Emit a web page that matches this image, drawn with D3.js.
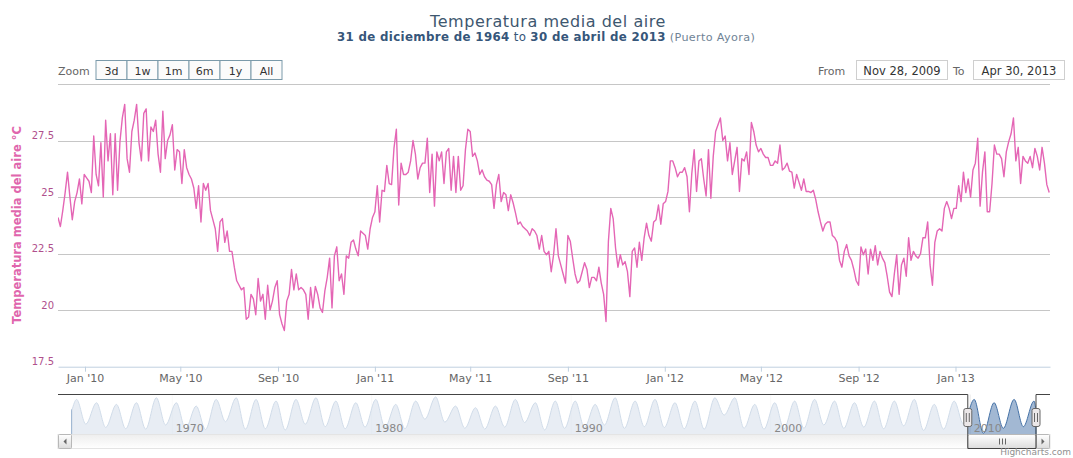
<!DOCTYPE html>
<html>
<head>
<meta charset="utf-8">
<script src="https://cdn.jsdelivr.net/npm/d3@7"></script>
<style>
  body { margin: 0; background: #fff; }
  svg { display: block; }
</style>
</head>
<body>
<script>
// mean air temperature, Puerto Ayora - one reading every 3 days from 28 Nov 2009
var startDate = new Date(Date.UTC(2009, 10, 28));
var endDate = new Date(Date.UTC(2013, 3, 30));
var stepDays = 3;
var temps = [
  24.1, 23.7, 24.4, 25.2, 26.1, 25.0, 24.0, 24.8, 25.2, 25.8,
  24.7, 26.0, 25.85, 25.7, 25.2, 27.7, 26.0, 25.5, 27.4, 25.0,
  28.4, 26.6, 27.8, 25.1, 27.8, 25.3, 27.45, 28.5, 29.1, 26.7,
  26.1, 27.9, 28.4, 29.1, 27.4, 26.6, 28.7, 28.9, 26.6, 28.1,
  27.9, 28.4, 26.9, 26.1, 28.8, 26.7, 27.5, 27.75, 28.2, 26.2,
  27.1, 27.0, 25.6, 27.1, 26.3, 26.0, 25.8, 25.4, 24.5, 25.5,
  23.9, 25.6, 25.3, 25.6, 24.4, 24.0, 23.6, 22.6, 23.9, 24.05,
  23.0, 23.5, 22.6, 22.6, 21.9, 21.3, 21.1, 20.9, 21.0, 19.6,
  19.7, 20.7, 20.5, 19.8, 21.4, 20.4, 20.7, 19.6, 21.1, 20.0,
  20.4, 21.0, 21.3, 19.8, 19.4, 19.1, 20.4, 20.7, 21.8, 20.9,
  21.6, 20.9, 21.0, 20.9, 20.7, 19.6,
  21.0, 20.1, 21.05, 20.7, 20.1, 19.9, 20.85, 21.45, 22.3, 20.1,
  22.4, 22.8, 21.3, 21.6, 20.7, 22.4, 22.3, 23.0, 23.1, 22.7,
  22.4, 23.5, 23.4, 23.3, 22.7, 23.6, 24.1, 24.35, 25.5, 23.9,
  25.3, 25.25, 26.4, 25.6, 25.55, 27.15, 28.0, 24.65, 26.5, 26.0,
  26.0, 26.1, 26.6, 27.5, 26.9, 25.8, 26.3, 26.5, 26.5, 27.6,
  25.2, 26.9, 24.6, 27.0, 26.6, 27.0, 25.6, 27.0, 27.15, 25.3,
  26.8, 25.2, 26.8, 25.3, 25.5, 27.1, 28.0, 27.9, 26.8, 26.95,
  26.6, 26.0, 26.2, 25.9, 25.75, 25.7, 25.55, 24.5, 25.55, 26.0,
  24.8, 25.2, 25.1, 24.4, 25.1, 24.75, 24.3, 23.8, 23.9, 23.7,
  23.6, 23.5, 23.3, 23.6, 23.5, 23.3, 22.7, 23.3, 22.6, 22.45,
  22.6, 21.7, 22.45, 23.6, 22.4,
  22.0, 21.6, 21.2, 23.3, 23.05, 22.3, 21.6, 21.2, 21.3, 21.7,
  22.1, 21.8, 21.0, 21.45, 21.45, 21.3, 21.9, 21.2, 20.7, 19.5,
  23.05, 24.5, 24.05, 22.75, 21.9, 22.45, 22.0, 22.15, 21.7, 20.6,
  22.6, 22.75, 21.9, 23.0, 22.2, 23.2, 23.85, 23.3, 23.05, 23.9,
  24.0, 24.65, 23.8, 24.7, 24.8, 25.25, 26.6, 26.6, 26.3, 25.9,
  26.1, 26.1, 26.3, 25.9, 24.35, 26.05, 27.1, 25.25, 26.6, 26.7,
  25.8, 25.05, 27.1, 24.95, 26.8, 27.9, 28.2, 28.5, 27.5, 27.7,
  26.6, 27.4, 26.0, 26.6, 27.2, 25.25, 26.7, 26.6, 27.0, 26.0,
  28.3, 27.9, 27.3, 27.0, 27.15, 26.9, 26.75, 26.75, 26.4, 26.4,
  26.6, 26.5, 27.3, 26.2, 26.3, 26.5, 26.15, 26.1, 25.4, 26.0,
  25.65, 25.3, 25.8, 25.25, 25.25,
  25.2, 25.3, 24.9, 24.35, 23.9, 23.5, 23.8, 23.9, 23.9, 23.3,
  23.2, 23.0, 22.2, 21.9, 22.6, 22.9, 22.4, 22.2, 21.8, 21.3,
  21.1, 22.8, 22.45, 22.7, 21.6, 22.7, 22.2, 22.85, 22.0, 22.6,
  22.3, 22.1, 21.5, 20.8, 20.6, 21.6, 22.45, 20.7, 22.0, 22.3,
  21.5, 23.2, 22.2, 22.6, 22.4, 22.3, 22.5, 23.2, 23.2, 23.9,
  22.0, 21.1, 23.0, 23.5, 23.6, 23.5, 24.5, 24.8, 24.5, 24.05,
  24.5, 24.5, 25.5, 24.8, 26.1, 25.2, 25.8, 25.0, 26.2, 26.5,
  27.6, 24.6, 26.1, 27.0, 24.35, 24.35, 25.6, 27.3, 26.9, 26.9,
  26.7, 25.9, 27.0, 27.45, 27.8, 28.5, 26.6, 27.2, 25.6, 26.8,
  26.6, 26.5, 26.8, 26.3, 27.15, 26.8, 26.2, 27.2, 26.5, 25.55, 25.2
];

var yGrid = [17.5, 20, 22.5, 25, 27.5, 30];
var yLabels = [17.5, 20, 22.5, 25, 27.5];
var zoomButtons = ["3d", "1w", "1m", "6m", "1y", "All"];

// navigator: whole record 31 Dec 1964 - 30 Apr 2013, yearly warm peak and cool trough
var navStart = new Date(Date.UTC(1964, 11, 31));
var navYears = d3.range(1965, 2014);
var navPeak = [
  28.0, 27.2, 26.8, 27.2, 28.4, 27.2, 26.4, 28.0, 28.4, 28.0,
  27.6, 28.0, 28.4, 27.6, 27.2, 28.0, 26.8, 27.6, 28.6, 26.4,
  26.0, 26.4, 28.0, 27.2, 27.6, 27.6, 26.8, 28.4, 27.6, 28.0,
  27.2, 27.6, 28.4, 28.4, 26.8, 27.2, 27.6, 28.0, 27.6, 27.2,
  27.6, 27.6, 28.0, 26.8, 27.6, 28.0, 27.2, 28.0, 27.6
];
var navTrough = [
  22.0, 21.2, 20.9, 20.8, 21.8, 20.9, 20.7, 22.6, 20.8, 20.9,
  20.6, 22.0, 21.4, 20.9, 21.3, 21.2, 20.9, 23.2, 22.5, 21.0,
  20.8, 21.3, 22.4, 20.6, 21.0, 21.2, 21.8, 21.0, 21.4, 21.2,
  20.9, 20.8, 24.2, 21.0, 20.8, 20.9, 21.0, 21.8, 21.0, 21.3,
  20.9, 21.6, 20.5, 20.8, 22.0, 19.8, 21.0, 21.4
];
var navEnds = [25.4, 25.2];
var navDecades = [1970, 1980, 1990, 2000, 2010];

var W = 1073, H = 458;
var font = "'DejaVu Sans', 'Lucida Grande', sans-serif";

var svg = d3.select("body").append("svg")
    .attr("width", W)
    .attr("height", H)
    .style("font-family", font);

// ---- titles
svg.append("text")
    .attr("x", 548).attr("y", 27)
    .attr("text-anchor", "middle")
    .attr("font-size", 16)
    .attr("letter-spacing", 0.55)
    .attr("fill", "#3E576F")
    .text("Temperatura media del aire");

var sub = svg.append("text")
    .attr("x", 546).attr("y", 40.5)
    .attr("text-anchor", "middle")
    .attr("font-size", 11.8)
    .attr("letter-spacing", 0.35)
    .attr("fill", "#36567a");
sub.append("tspan").attr("font-weight", "bold").text("31 de diciembre de 1964");
sub.append("tspan").text(" to ");
sub.append("tspan").attr("font-weight", "bold").text("30 de abril de 2013");
sub.append("tspan").attr("fill", "#6f8396").attr("font-size", 11.2).text(" (Puerto Ayora)");

// ---- range selector
svg.append("text")
    .attr("x", 58).attr("y", 74.5)
    .attr("font-size", 11)
    .attr("fill", "#666")
    .text("Zoom");

var btnW = 31;
var btns = svg.selectAll("g.btn")
    .data(zoomButtons)
    .enter().append("g")
    .attr("class", "btn")
    .attr("transform", function (d, i) { return "translate(" + (96 + i * btnW) + ",60.5)"; });
btns.append("rect")
    .attr("width", btnW).attr("height", 19)
    .attr("fill", "#fbfbfb")
    .attr("stroke", "#7b9aaa");
btns.append("text")
    .attr("x", btnW / 2).attr("y", 14)
    .attr("text-anchor", "middle")
    .attr("font-size", 11)
    .attr("fill", "#333")
    .text(function (d) { return d; });

var inputs = [
  {label: "From", lx: 818, bx: 856, text: d3.utcFormat("%b %-d, %Y")(startDate)},
  {label: "To", lx: 953, bx: 973, text: d3.utcFormat("%b %-d, %Y")(endDate)}
];
inputs.forEach(function (d) {
  svg.append("text")
      .attr("x", d.lx).attr("y", 74.5)
      .attr("font-size", 11)
      .attr("fill", "#666")
      .text(d.label);
  svg.append("rect")
      .attr("x", d.bx + 0.5).attr("y", 60.5)
      .attr("width", 91).attr("height", 19)
      .attr("fill", "#fff")
      .attr("stroke", "#cfcfcf");
  svg.append("text")
      .attr("x", d.bx + 46).attr("y", 75)
      .attr("text-anchor", "middle")
      .attr("font-size", 11.5)
      .attr("fill", "#333")
      .text(d.text);
});

// ---- main chart
var plot = {left: 58, right: 1050, top: 84, bottom: 366.7};

var x = d3.scaleUtc()
    .domain([startDate, endDate])
    .range([plot.left, plot.right]);

var y = d3.scaleLinear()
    .domain([17.5, 30])
    .range([plot.bottom, plot.top]);

// horizontal grid
svg.append("g")
    .selectAll("line")
    .data(yGrid.filter(function (v) { return v > 17.5; }))
    .enter().append("line")
    .attr("x1", plot.left).attr("x2", plot.right)
    .attr("y1", function (d) { return Math.round(y(d)) + 0.5; })
    .attr("y2", function (d) { return Math.round(y(d)) + 0.5; })
    .attr("stroke", "#c6c6c6");

// y labels, sitting just above their grid line
svg.append("g")
    .selectAll("text")
    .data(yLabels)
    .enter().append("text")
    .attr("x", 54)
    .attr("y", function (d) { return y(d) - 1.5; })
    .attr("text-anchor", "end")
    .attr("font-size", 10)
    .attr("fill", "#b0508c")
    .text(function (d) { return d; });

svg.append("text")
    .attr("transform", "translate(21,225) rotate(-90)")
    .attr("text-anchor", "middle")
    .attr("font-size", 11.5)
    .attr("font-weight", "bold")
    .attr("fill", "#e066ad")
    .text("Temperatura media del aire \u00B0C");

// x axis
var xAxis = svg.append("g")
    .attr("transform", "translate(0," + plot.bottom + ")")
    .call(d3.axisBottom(x)
      .ticks(d3.utcMonth.every(4))
      .tickFormat(d3.utcFormat("%b '%y"))
      .tickSize(5)
      .tickSizeOuter(0)
      .tickPadding(3));
xAxis.select(".domain").attr("stroke", "#C0D0E0");
xAxis.selectAll(".tick line").attr("stroke", "#C0D0E0");
xAxis.selectAll(".tick text")
    .attr("font-family", font)
    .attr("font-size", 11)
    .attr("fill", "#666");

var series = temps.map(function (v, i) {
  return {date: d3.utcDay.offset(startDate, i * stepDays), v: v};
});

svg.append("clipPath").attr("id", "plotclip")
  .append("rect")
    .attr("x", plot.left).attr("y", plot.top)
    .attr("width", plot.right - plot.left).attr("height", plot.bottom - plot.top);

svg.append("path")
    .datum(series)
    .attr("clip-path", "url(#plotclip)")
    .attr("fill", "none")
    .attr("stroke", "#e466b5")
    .attr("stroke-width", 1.4)
    .attr("stroke-linejoin", "round")
    .attr("d", d3.line()
      .x(function (d) { return x(d.date); })
      .y(function (d) { return y(d.v); }));

// ---- navigator
var nav = {left: 72, right: 1036, top: 394.5, height: 40};
var navBottom = nav.top + nav.height;

var nx = d3.scaleUtc()
    .domain([navStart, endDate])
    .range([nav.left, nav.right]);
var ny = d3.scaleLinear()
    .domain([19.5, 29.2])
    .range([navBottom, nav.top]);

var navData = [{date: navStart, v: navEnds[0]}];
navYears.forEach(function (yr, i) {
  navData.push({date: new Date(Date.UTC(yr, 2, 25)), v: navPeak[i]});
  if (i < navTrough.length) navData.push({date: new Date(Date.UTC(yr, 8, 10)), v: navTrough[i]});
});
navData.push({date: endDate, v: navEnds[1]});

// decade grid lines
var navAxis = svg.append("g")
    .attr("transform", "translate(0," + navBottom + ")")
    .call(d3.axisBottom(nx)
      .tickValues(navDecades.map(function (yr) { return new Date(Date.UTC(yr, 0, 1)); }))
      .tickFormat(d3.utcFormat("%Y"))
      .tickSize(-nav.height)
      .tickSizeOuter(0));
navAxis.select(".domain").remove();
navAxis.selectAll(".tick line").attr("stroke", "#e8e8e8");
navAxis.selectAll(".tick text").remove();

svg.append("path")
    .datum(navData)
    .attr("fill", "#4572A7")
    .attr("fill-opacity", 0.5)
    .attr("stroke", "#4572A7")
    .attr("stroke-width", 1)
    .attr("d", d3.area()
      .curve(d3.curveMonotoneX)
      .x(function (d) { return nx(d.date); })
      .y0(navBottom)
      .y1(function (d) { return ny(d.v); }));

var selA = nx(startDate), selB = nx(endDate);

// white mask outside the selected range
svg.append("rect")
    .attr("x", nav.left).attr("y", nav.top)
    .attr("width", selA - nav.left).attr("height", nav.height)
    .attr("fill", "#fff").attr("fill-opacity", 0.75);
svg.append("rect")
    .attr("x", selB).attr("y", nav.top)
    .attr("width", Math.max(0, nav.right - selB)).attr("height", nav.height)
    .attr("fill", "#fff").attr("fill-opacity", 0.75);

svg.append("g")
    .selectAll("text")
    .data(navDecades)
    .enter().append("text")
    .attr("x", function (d) { return nx(new Date(Date.UTC(d, 0, 1))) + 4; })
    .attr("y", navBottom - 3)
    .attr("font-size", 11)
    .attr("fill", "#888")
    .text(function (d) { return d; });

// scrollbar
var sb = {top: navBottom, h: 14};
var defs = svg.append("defs");
var g1 = defs.append("linearGradient").attr("id", "sbtrack").attr("x1", 0).attr("y1", 0).attr("x2", 0).attr("y2", 1);
g1.append("stop").attr("offset", 0).attr("stop-color", "#eeeeee");
g1.append("stop").attr("offset", 1).attr("stop-color", "#ffffff");
var g2 = defs.append("linearGradient").attr("id", "sbbtn").attr("x1", 0).attr("y1", 0).attr("x2", 0).attr("y2", 1);
g2.append("stop").attr("offset", 0).attr("stop-color", "#ffffff");
g2.append("stop").attr("offset", 1).attr("stop-color", "#dcdcdc");

svg.append("rect")
    .attr("x", plot.left).attr("y", sb.top)
    .attr("width", plot.right - plot.left).attr("height", sb.h)
    .attr("fill", "url(#sbtrack)")
    .attr("stroke", "#e4e4e4");

svg.append("rect")
    .attr("x", selA).attr("y", sb.top)
    .attr("width", selB - selA).attr("height", sb.h)
    .attr("rx", 2)
    .attr("fill", "url(#sbbtn)")
    .attr("stroke", "#b8b8b8");
[-3, 0, 3].forEach(function (o) {
  var cx = Math.round((selA + selB) / 2) + o + 0.5;
  svg.append("line")
      .attr("x1", cx).attr("x2", cx)
      .attr("y1", sb.top + 4).attr("y2", sb.top + sb.h - 4)
      .attr("stroke", "#666");
});

[[plot.left, -1], [plot.right - sb.h, 1]].forEach(function (b) {
  svg.append("rect")
      .attr("x", b[0] + 0.5).attr("y", sb.top)
      .attr("width", sb.h - 1).attr("height", sb.h)
      .attr("rx", 1)
      .attr("fill", "url(#sbbtn)")
      .attr("stroke", "#b8b8b8");
  var cx = b[0] + sb.h / 2, cy = sb.top + sb.h / 2;
  svg.append("path")
      .attr("d", "M" + (cx + 1.5 * b[1]) + "," + cy + "L" + (cx - 1.5 * b[1]) + "," + (cy - 3) + "L" + (cx - 1.5 * b[1]) + "," + (cy + 3) + "Z")
      .attr("fill", "#666");
});

// outline around selected range
svg.append("path")
    .attr("fill", "none")
    .attr("stroke", "#444")
    .attr("stroke-width", 1)
    .attr("d", "M" + plot.left + "," + nav.top + "H" + selA + "V" + (sb.top + sb.h) +
               "H" + selB + "V" + nav.top + "H" + plot.right);

// handles
[selA, selB].forEach(function (hx) {
  svg.append("rect")
      .attr("x", hx - 4).attr("y", 408.5)
      .attr("width", 8).attr("height", 18)
      .attr("rx", 2)
      .attr("fill", "#ebe7e8")
      .attr("stroke", "#666");
  [-1.5, 1.5].forEach(function (o) {
    svg.append("line")
        .attr("x1", hx + o).attr("x2", hx + o)
        .attr("y1", 413).attr("y2", 422)
        .attr("stroke", "#666");
  });
});

// credit
svg.append("text")
    .attr("x", 1071).attr("y", 455)
    .attr("text-anchor", "end")
    .attr("font-size", 9)
    .attr("fill", "#909090")
    .text("Highcharts.com");
</script>
</body>
</html>
